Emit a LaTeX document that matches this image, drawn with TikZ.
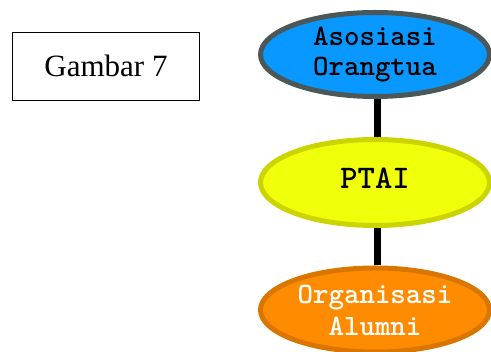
\documentclass[tikz,border=0pt]{standalone}
\usepackage{fontspec}
\setmainfont{Liberation Serif}
\usetikzlibrary{shapes.geometric}

\definecolor{blueFill}{RGB}{8,152,255}
\definecolor{blueEdge}{RGB}{76,88,88}
\definecolor{yellowFill}{RGB}{240,255,10}
\definecolor{yellowEdge}{RGB}{204,212,0}
\definecolor{orangeFill}{RGB}{255,140,0}
\definecolor{orangeEdge}{RGB}{218,118,0}

\tikzset{
  org/.style={ellipse, inner sep=0pt, line width=5pt,
    minimum width=229pt, minimum height=84pt, align=center,
    font=\ttfamily\bfseries\fontsize{29.5}{30}\selectfont},
  link/.style={line width=7pt, black},
  caption/.style={draw, line width=1.2pt, inner sep=0pt,
    minimum width=187pt, minimum height=68pt,
    font=\fontsize{31}{34}\selectfont}
}

\begin{document}
\begin{tikzpicture}[x=1pt,y=1pt]
  \useasboundingbox (0,0) rectangle (491,352);
  \clip (0,0) rectangle (491,352);

  % caption box
  \node[caption] (cap) at (106,285.5) {\raisebox{2pt}{Gambar 7}};

  % three ellipses, top to bottom
  \node[org, draw=blueEdge, fill=blueFill] (ortu) at (375,297.5)
    {Asosiasi\\Orangtua};
  \node[org, draw=yellowEdge, fill=yellowFill, minimum height=86pt] (ptai) at (375,169.5)
    {\raisebox{8pt}{\fontsize{33}{34}\selectfont PTAI}};
  \node[org, draw=orangeEdge, fill=orangeFill, text=white] (alumni) at (375,42)
    {\raisebox{-3pt}{\shortstack{Organisasi\\[4pt]Alumni}}};

  % connectors
  \draw[link] ([xshift=2.5pt]ortu.south) -- ([xshift=2.5pt]ptai.north);
  \draw[link] ([xshift=2.5pt]ptai.south) -- ([xshift=2.5pt]alumni.north);
\end{tikzpicture}
\end{document}
